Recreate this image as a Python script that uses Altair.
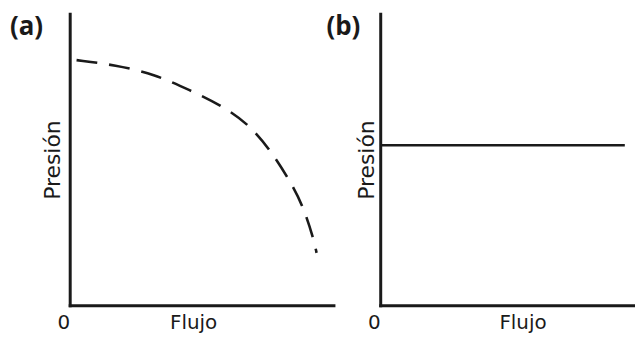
import altair as alt
import pandas as pd

# ---- data (axes 0..100 in both directions) ----
flow_a = [2.6, 17.4, 32.1, 45.3, 59.2, 69.1, 76.6, 83.0, 88.3, 92.5, 93.6]
pressure_a = [84.1, 82.4, 79.3, 73.9, 67.8, 61.0, 52.5, 43.4, 34.6, 22.7, 18.0]
flow_b = [0, 96]
pressure_b = [54.9, 54.9]
origin_tick = [0]
x_title = "Flujo"
y_title = "Presión"
panel_labels = ["(a)", "(b)"]

FONT = "DejaVu Sans"
TITLE_FONT = "Open Sans"
INK = "#1a1a1a"

df_a = pd.DataFrame({"flujo": flow_a, "presion": pressure_a})
df_b = pd.DataFrame({"flujo": flow_b, "presion": pressure_b})


def x_enc(title_x):
    return alt.X(
        "flujo:Q",
        scale=alt.Scale(domain=[0, 100], nice=False, zero=False),
        axis=alt.Axis(
            values=origin_tick,
            format="d",
            title=x_title,
            ticks=False,
            grid=False,
            labelFontSize=20,
            labelFont=FONT,
            labelColor=INK,
            labelPadding=23,
            labelBaseline="alphabetic",
            labelAlign="right",
            labelFlush=False,
            labelOverlap=False,
            titleFont=FONT,
            titleFontSize=20,
            titleFontWeight="normal",
            titleColor=INK,
            titleX=title_x,
            titleY=23,
            titleBaseline="alphabetic",
            domainColor=INK,
            domainWidth=3,
            domainCap="square",
        ),
    )


def y_enc(title_pad):
    return alt.Y(
        "presion:Q",
        scale=alt.Scale(domain=[0, 100], nice=False, zero=False),
        axis=alt.Axis(
            title=y_title,
            labels=False,
            ticks=False,
            grid=False,
            titleFont=FONT,
            titleFontSize=22,
            titleFontWeight="normal",
            titleColor=INK,
            titlePadding=title_pad,
            domainColor=INK,
            domainWidth=3,
            domainCap="square",
        ),
    )


def panel_title(text, dx):
    return alt.TitleParams(
        text=text,
        anchor="start",
        frame="group",
        dx=dx,
        dy=26,
        offset=0,
        fontSize=26,
        fontWeight="bold",
        font=TITLE_FONT,
        color=INK,
    )


chart_a = (
    alt.Chart(df_a)
    .mark_line(color=INK, strokeWidth=2.6, strokeDash=[21, 12], interpolate="basis")
    .encode(x=x_enc(124), y=y_enc(5))
    .properties(width=265, height=293, title=panel_title(panel_labels[0], -60))
)

chart_b = (
    alt.Chart(df_b)
    .mark_line(color=INK, strokeWidth=2.6)
    .encode(x=x_enc(143), y=y_enc(2))
    .properties(width=256, height=293, title=panel_title(panel_labels[1], -54))
)

chart = (
    alt.hconcat(chart_a, chart_b, spacing=47, bounds="flush")
    .properties(padding={"left": 2, "top": 5, "right": 0, "bottom": 0})
    .configure_view(stroke=None)
    .configure_concat(spacing=47)
)

chart.save("out.html", embed_options={"renderer": "svg", "actions": False})
